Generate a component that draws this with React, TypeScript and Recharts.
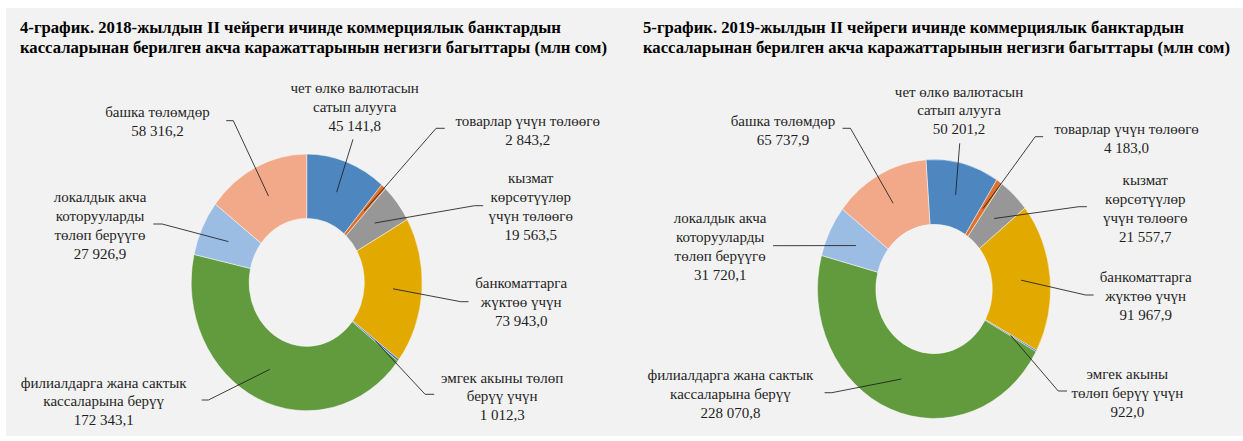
import { Cell, Pie, PieChart } from "recharts";

// Excel-стилдеги донут: сүрөт горизонталдуу кысылган, ошондуктан шакек эллипс
const SQUEEZE = 0.9;
const FONT = '"Liberation Serif", "Times New Roman", serif';
const LINE_H = 19;

const COLORS = ["#4e86c0", "#dc722e", "#979797", "#e2a900", "#3a67be", "#629a3e", "#9cbde3", "#f1a98a"];

const LINES_2018 = [
  ["чет өлкө валютасын", "сатып алууга"],
  ["товарлар үчүн төлөөгө"],
  ["кызмат", "көрсөтүүлөр", "үчүн төлөөгө"],
  ["банкоматтарга", "жүктөө үчүн"],
  ["эмгек акыны төлөп", "берүү үчүн"],
  ["филиалдарга жана сактык", "кассаларына берүү"],
  ["локалдык акча", "которууларды", "төлөп берүүгө"],
  ["башка төлөмдөр"],
];

const LINES_2019 = [
  ["чет өлкө валютасын", "сатып алууга"],
  ["товарлар үчүн төлөөгө"],
  ["кызмат", "көрсөтүүлөр", "үчүн төлөөгө"],
  ["банкоматтарга", "жүктөө үчүн"],
  ["эмгек акыны", "төлөп берүү үчүн"],
  ["филиалдарга жана сактык", "кассаларына берүү"],
  ["локалдык акча", "которууларды", "төлөп берүүгө"],
  ["башка төлөмдөр"],
];

const VALUES_2018 = [45141.8, 2843.2, 19563.5, 73943.0, 1012.3, 172343.1, 27926.9, 58316.2];
const VALUES_2019 = [50201.2, 4183.0, 21557.7, 91967.9, 922.0, 228070.8, 31720.1, 65737.9];

// [текст x, биринчи сап y, ийилүү x, ийилүү y, сызык аягы x] — борбордон, px
const LAYOUT_2018 = [
  [48, -194, 46.3, -143.1, 46.3],
  [221, -161.4, 129.4, -154.1, 138.1],
  [224, -104.4, 167.8, -76.7, 176.5],
  [214.5, 0.9, 154, 19.3, 161.9],
  [195.5, 95.3, 118.4, 111.9, 127.5],
  [-203, 100.3, -98.3, 117.6, -105],
  [-206.7, -85.1, -144.6, -58.4, -153.3],
  [-149.3, -170.1, -73.4, -161.7, -80.5],
];

const LAYOUT_2019 = [
  [25, -197.3, 25.7, -145.7, 25.7],
  [192.5, -160, 101.2, -152.3, 109.1],
  [211.2, -109, 144.9, -82.3, 152.8],
  [211.6, -11.7, 151.6, 6, 159.6],
  [193.3, 85, 124.2, 102, 133],
  [-203.6, 86, -102.2, 103.7, -109.4],
  [-213.9, -70.7, -161, -43.3, -161],
  [-151.1, -168, -83.6, -160.7, -91.5],
];

function fmt(v: number) {
  const [i, d] = v.toFixed(1).split(".");
  return i.replace(/\B(?=(\d{3})+(?!\d))/g, " ") + "," + d;
}

function makeLabel(lines: string[][], values: number[], layout: number[][]) {
  return (p: any) => {
    const { cx, cy, midAngle, innerRadius, outerRadius, index } = p;
    const [tx, ty, kx, ky, hx] = layout[index];
    const r = (innerRadius + outerRadius) / 2;
    const a = (-midAngle * Math.PI) / 180;
    const sx = cx + r * Math.cos(a);
    const sy = cy + r * Math.sin(a);
    const ux = (d: number) => cx + d / SQUEEZE;
    const rows = [...lines[index], fmt(values[index])];
    return (
      <g key={`lbl-${index}`}>
        <polyline
          points={`${sx},${sy} ${ux(kx)},${cy + ky} ${ux(hx)},${cy + ky}`}
          fill="none"
          stroke="#1f1f1f"
          strokeWidth={0.9}
        />
        <text
          transform={`translate(${ux(tx)},${cy + ty}) scale(${1 / SQUEEZE},1)`}
          textAnchor="middle"
          fontFamily={FONT}
          fontSize={15}
          fill="#1f1f1f"
        >
          {rows.map((t, i) => (
            <tspan key={i} x={0} y={i * LINE_H + 4.8}>
              {t}
            </tspan>
          ))}
        </text>
      </g>
    );
  };
}

function Donut({
  lines,
  values,
  layout,
  left,
  width,
  cx,
  cy,
  inner,
  outer,
  startAngle,
}: {
  lines: string[][];
  values: number[];
  layout: number[][];
  left: number;
  width: number;
  cx: number;
  cy: number;
  inner: number;
  outer: number;
  startAngle: number;
}) {
  const data = lines.map((l, i) => ({ name: l.join(" "), value: values[i] }));
  return (
    <div
      style={{
        position: "absolute",
        left,
        top: 0,
        width,
        height: 428,
        transform: `scaleX(${SQUEEZE})`,
        transformOrigin: "0 0",
      }}
    >
      <PieChart width={width} height={428} margin={{ top: 0, right: 0, bottom: 0, left: 0 }}>
        <Pie
          data={data}
          dataKey="value"
          nameKey="name"
          cx={cx}
          cy={cy}
          innerRadius={inner}
          outerRadius={outer}
          startAngle={startAngle}
          endAngle={startAngle - 360}
          stroke="#ffffff"
          strokeWidth={0.5}
          labelLine={false}
          label={makeLabel(lines, values, layout)}
          isAnimationActive={false}
        >
          {data.map((d, i) => (
            <Cell key={d.name} fill={COLORS[i]} />
          ))}
        </Pie>
      </PieChart>
    </div>
  );
}

function Title({ left, lines }: { left: number; lines: string[] }) {
  return (
    <div
      style={{
        position: "absolute",
        left,
        top: 10,
        fontFamily: FONT,
        fontWeight: "bold",
        fontSize: 16.7,
        lineHeight: "20px",
        color: "#000",
        whiteSpace: "nowrap",
      }}
    >
      {lines.map((l) => (
        <div key={l}>{l}</div>
      ))}
    </div>
  );
}

export default function App() {
  return (
    <div
      style={{
        position: "absolute",
        left: 6,
        top: 8,
        width: 1237,
        height: 428,
        background: "#f2f2f2",
        overflow: "hidden",
      }}
    >
      <Donut
        lines={LINES_2018}
        values={VALUES_2018}
        layout={LAYOUT_2018}
        left={0}
        width={686}
        cx={334.1}
        cy={274.4}
        inner={64}
        outer={128.3}
        startAngle={90}
      />
      <Donut
        lines={LINES_2019}
        values={VALUES_2019}
        layout={LAYOUT_2019}
        left={617}
        width={689}
        cx={345.6}
        cy={281}
        inner={64.7}
        outer={129.5}
        startAngle={94}
      />
      <Title
        left={14}
        lines={[
          "4-график. 2018-жылдын II чейреги ичинде коммерциялык банктардын",
          "кассаларынан берилген акча каражаттарынын негизги багыттары (млн сом)",
        ]}
      />
      <Title
        left={637}
        lines={[
          "5-график. 2019-жылдын II чейреги ичинде коммерциялык банктардын",
          "кассаларынан берилген акча каражаттарынын негизги багыттары (млн сом)",
        ]}
      />
    </div>
  );
}
